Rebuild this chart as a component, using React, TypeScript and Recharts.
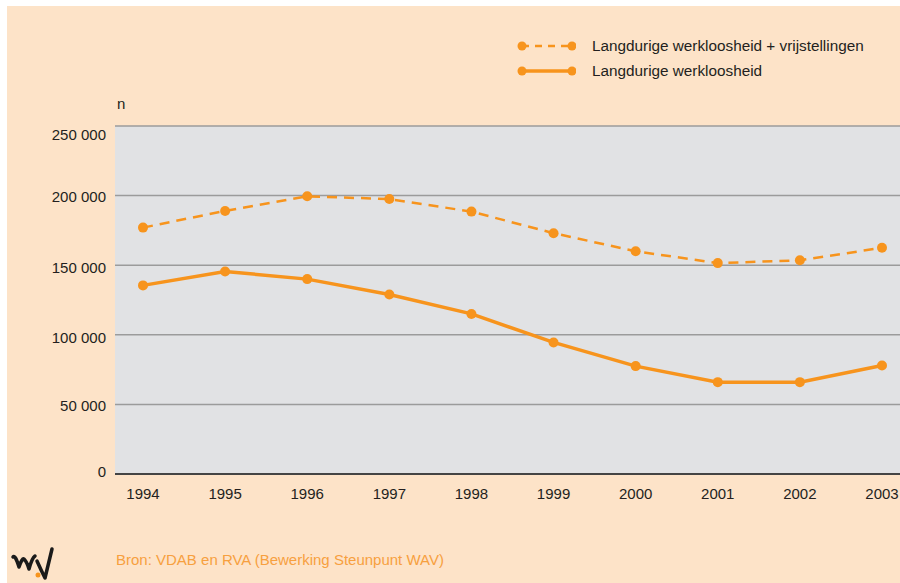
import React from "react";
import { LineChart, Line, XAxis, YAxis, CartesianGrid } from "recharts";

const years = ["1994", "1995", "1996", "1997", "1998", "1999", "2000", "2001", "2002", "2003"];
const withExemptions = [177000, 189000, 199500, 197500, 188500, 173000, 160000, 151500, 153500, 162500];
const longTerm = [135500, 145500, 140000, 129000, 115000, 94500, 77500, 66000, 66000, 78000];
const yTicks = [0, 50000, 100000, 150000, 200000, 250000];
const seriesNames = [
  "Langdurige werkloosheid + vrijstellingen",
  "Langdurige werkloosheid",
];
const sourceNote = "Bron: VDAB en RVA (Bewerking Steunpunt WAV)";

const ORANGE = "#F7941D";
const FONT = "'Liberation Sans', Arial, sans-serif";

const data = years.map((year, i) => ({
  year,
  withExemptions: withExemptions[i],
  longTerm: longTerm[i],
}));

const fmt = (v: number) =>
  v === 0 ? "0" : `${Math.floor(v / 1000)} ${String(v % 1000).padStart(3, "0")}`;

// small nudges so the labels sit like in the original print
const tickNudge: Record<number, number> = { 250000: 8, 200000: 1, 150000: 2, 100000: 3, 50000: 1, 0: -3 };

const YTick = (props: any) => {
  const { x, y, payload } = props;
  return (
    <text
      x={x}
      y={y + (tickNudge[payload.value] ?? 0)}
      textAnchor="end"
      dominantBaseline="central"
      fill="#231f20"
      fontSize={15}
      fontFamily={FONT}
    >
      {fmt(payload.value)}
    </text>
  );
};

const LegendIcon = ({ dashed }: { dashed?: boolean }) => (
  <svg width={60} height={12} style={{ display: "block" }}>
    <line
      x1={6}
      y1={6}
      x2={54}
      y2={6}
      stroke={ORANGE}
      strokeWidth={dashed ? 2.5 : 3.5}
      strokeDasharray={dashed ? "7 6" : undefined}
    />
    <circle cx={6} cy={6} r={4.5} fill={ORANGE} />
    <circle cx={56} cy={6} r={4.5} fill={ORANGE} />
  </svg>
);

export default function App() {
  return (
    <div
      style={{
        position: "absolute",
        left: 0,
        top: 0,
        width: 900,
        height: 583,
        background: "#fff",
        overflow: "hidden",
        fontFamily: FONT,
      }}
    >
      <div
        style={{
          position: "absolute",
          left: 7,
          top: 6,
          right: 0,
          bottom: 0,
          background: "#FDE3C8",
        }}
      />

      <div style={{ position: "absolute", left: 0, top: 0 }}>
        <LineChart
          width={900}
          height={583}
          data={data}
          margin={{ top: 126, right: 0, bottom: 79, left: 15 }}
        >
          <CartesianGrid
            vertical={false}
            fill="#E1E2E4"
            stroke="#9b9b9b"
            strokeWidth={1.5}
          />
          <XAxis
            dataKey="year"
            padding={{ left: 28, right: 18 }}
            tickLine={false}
            tickSize={0}
            tickMargin={14}
            axisLine={{ stroke: "#444", strokeWidth: 2 }}
            tick={{ fill: "#231f20", fontSize: 15, fontFamily: FONT }}
            interval={0}
          />
          <YAxis
            width={100}
            domain={[0, 250000]}
            ticks={yTicks}
            axisLine={false}
            tickLine={false}
            tickSize={0}
            tickMargin={9}
            tick={<YTick />}
            label={{
              content: (p: any) => (
                <text
                  x={p.viewBox.x + p.viewBox.width + 2}
                  y={p.viewBox.y - 23}
                  dominantBaseline="central"
                  fill="#231f20"
                  fontSize={15}
                  fontFamily={FONT}
                >
                  n
                </text>
              ),
            }}
          />
          <Line
            dataKey="withExemptions"
            name={seriesNames[0]}
            stroke={ORANGE}
            strokeWidth={2.5}
            strokeDasharray="10 7"
            dot={{ r: 5, fill: ORANGE, stroke: "none" }}
            isAnimationActive={false}
          />
          <Line
            dataKey="longTerm"
            name={seriesNames[1]}
            stroke={ORANGE}
            strokeWidth={3.5}
            dot={{ r: 5, fill: ORANGE, stroke: "none" }}
            isAnimationActive={false}
          />
        </LineChart>
      </div>

      {/* legend */}
      <div style={{ position: "absolute", left: 516, top: 33, fontSize: 15.3, color: "#231f20" }}>
        {seriesNames.map((name, i) => (
          <div key={name} style={{ display: "flex", alignItems: "center", height: 25 }}>
            <LegendIcon dashed={i === 0} />
            <span style={{ marginLeft: 16 }}>{name}</span>
          </div>
        ))}
      </div>

      {/* logo */}
      <svg style={{ position: "absolute", left: 10, top: 540 }} width={48} height={42}>
        <path
          d="M3 17 Q5 14 9 27 Q12 18 14 19 Q17 22 19 29 Q22 18 25 16"
          fill="none"
          stroke="#1a1a1a"
          strokeWidth={3.5}
          strokeLinejoin="round"
          strokeLinecap="round"
        />
        <path
          d="M27 21 Q31 30 35 38 L42 9"
          fill="none"
          stroke="#1a1a1a"
          strokeWidth={3.5}
          strokeLinejoin="round"
          strokeLinecap="round"
        />
        <circle cx={28} cy={35} r={2.5} fill={ORANGE} />
      </svg>

      <div
        style={{
          position: "absolute",
          left: 116,
          top: 551,
          fontSize: 15,
          color: "#F7A03F",
          whiteSpace: "nowrap",
        }}
      >
        {sourceNote}
      </div>
    </div>
  );
}
